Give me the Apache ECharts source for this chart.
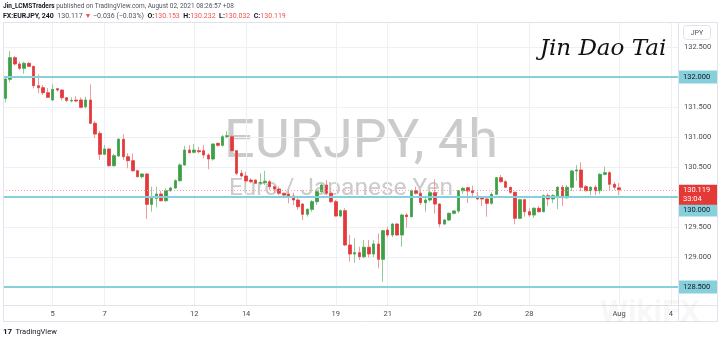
<!DOCTYPE html>
<html><head><meta charset="utf-8">
<script src="https://cdn.jsdelivr.net/npm/echarts@6/dist/echarts.min.js"></script>
<style>html,body{margin:0;padding:0;background:#fff;}#c{width:720px;height:342px;}</style>
</head><body><div id="c"></div>
<script>
// ---- data: EURJPY 4h candles (index 0 .. 130), last = Aug 2 05:00 (+08)
const opens = [131.645,131.962,132.322,132.217,132.145,132.228,132.178,131.855,131.822,131.738,
131.617,131.805,131.783,131.655,131.600,131.615,131.617,131.505,131.617,131.228,
131.060,130.712,130.800,130.522,130.683,130.962,130.672,130.605,130.438,130.338,
130.383,129.878,129.978,130.050,129.938,130.105,130.150,130.272,130.533,130.783,
130.745,130.772,130.772,130.700,130.633,130.895,130.862,131.005,131.005,130.772,
130.395,130.350,130.283,130.283,130.228,130.238,130.255,130.172,130.133,130.062,
130.050,130.017,129.950,129.883,129.712,129.795,129.922,130.088,130.200,130.062,
129.922,129.683,129.772,129.200,129.050,129.072,129.005,129.162,129.050,129.217,
128.962,129.450,129.367,129.550,129.367,129.700,129.672,130.105,130.062,129.905,
129.950,130.072,129.883,129.550,129.617,129.728,129.767,130.105,130.155,130.105,
130.012,129.990,129.967,129.895,130.045,130.322,130.255,130.162,130.078,129.645,
129.955,129.755,129.700,129.812,129.755,130.022,129.967,130.022,130.162,129.988,
130.162,130.433,130.450,130.172,130.105,130.162,130.105,130.378,130.405,130.212,
130.153];
const closes = [131.967,132.322,132.217,132.145,132.228,132.178,131.855,131.822,131.738,131.662,
131.795,131.783,131.655,131.610,131.610,131.600,131.495,131.617,131.228,131.050,
130.712,130.800,130.522,130.688,130.962,130.672,130.605,130.438,130.338,130.383,
129.878,129.978,130.050,129.938,130.105,130.150,130.272,130.533,130.783,130.738,
130.783,130.755,130.700,130.633,130.883,130.862,131.005,131.022,130.772,130.395,
130.350,130.267,130.255,130.228,130.245,130.262,130.172,130.133,130.062,130.033,
130.017,129.950,129.838,129.712,129.795,129.922,130.088,130.200,130.062,129.922,
129.683,129.772,129.200,129.050,129.072,129.005,129.162,129.050,129.217,128.962,
129.438,129.367,129.550,129.367,129.700,129.672,130.105,130.062,129.905,129.950,
130.072,129.883,129.550,129.617,129.728,129.767,130.105,130.145,130.100,130.072,
129.967,129.967,129.895,130.045,130.322,130.255,130.162,130.078,129.645,129.955,
129.755,129.700,129.812,129.755,130.022,129.967,130.022,130.162,129.988,130.162,
130.433,130.450,130.162,130.105,130.162,130.105,130.378,130.405,130.212,130.162,
130.119];
const lows = [131.578,131.910,132.190,132.117,132.055,132.167,131.810,131.730,131.700,131.650,
131.600,131.755,131.610,131.583,131.578,131.580,131.478,131.478,131.217,130.988,
130.617,130.700,130.505,130.505,130.672,130.617,130.478,130.422,130.328,130.312,
129.633,129.755,129.828,129.922,129.920,130.090,130.138,130.255,130.517,130.728,
130.728,130.728,130.645,130.462,130.605,130.838,130.838,130.978,130.755,130.367,
130.328,130.228,130.228,130.217,130.200,130.200,130.117,130.072,130.033,129.995,
129.895,129.867,129.783,129.617,129.672,129.755,129.867,130.070,130.033,129.895,
129.672,129.662,129.183,128.922,128.905,128.950,128.978,128.990,129.000,128.812,
128.588,129.328,129.330,129.350,129.172,129.490,129.660,130.040,129.867,129.755,
129.922,129.728,129.495,129.530,129.600,129.710,129.728,130.050,129.900,129.990,
129.950,129.850,129.672,129.870,130.030,130.240,130.150,130.050,129.545,129.630,
129.672,129.670,129.650,129.740,129.745,129.850,129.900,129.800,129.850,129.970,
130.100,130.270,130.100,130.090,130.030,130.030,130.050,130.360,130.100,130.120,
130.032];
const highs = [132.005,132.433,132.350,132.255,132.255,132.250,132.180,132.045,131.867,131.817,
131.878,131.820,131.790,131.660,131.660,131.680,131.660,131.672,131.878,131.270,
131.100,130.867,130.820,130.717,130.983,131.045,130.728,130.728,130.450,130.395,
130.400,130.172,130.172,130.100,130.145,130.170,130.295,130.562,130.850,130.867,
130.883,130.838,130.867,130.728,130.895,130.905,131.033,131.100,131.033,130.780,
130.450,130.422,130.312,130.290,130.395,130.438,130.283,130.200,130.172,130.072,
130.128,130.072,129.978,129.895,129.812,129.950,130.128,130.228,130.283,130.145,
129.950,129.795,129.812,129.367,129.312,129.172,129.283,129.283,129.280,129.395,
129.450,129.505,129.570,129.570,129.720,129.730,130.128,130.172,130.090,130.005,
130.117,130.295,129.900,129.630,129.740,129.780,130.120,130.170,130.170,130.190,
130.080,130.000,129.990,130.080,130.330,130.367,130.280,130.170,130.090,129.970,
129.970,129.810,129.830,129.850,130.040,130.060,130.050,130.180,130.200,130.200,
130.450,130.533,130.578,130.200,130.180,130.200,130.400,130.505,130.430,130.250,
130.232];

// x axis: 4h slots (candles + empty future slots), day labels at the first candle of the day
const slotCount = 143;
const dayLabels = ['5','7','12','14','19','21','26','28','Aug','4'];
const dayIndex  = [10, 21, 40, 51, 70, 81, 100, 111, 130, 141];

// horizontal levels drawn on chart and current price
const levelLines = [132.0, 130.0, 128.5];
const lastPrice = 130.119;
const countdown = '33:04';

const UP = '#3f9f48', DOWN = '#e2393a', UPW = '#8fcb94', DOWNW = '#f09a9a';
const FONT = 'Roboto, "Open Sans", sans-serif';

const chart = echarts.init(document.getElementById('c'), null, {renderer: 'canvas'});
const categories = Array.from({length: slotCount}, (_, i) => 'k' + i);
const labelAt = {};
dayIndex.forEach((k, j) => { labelAt[k] = dayLabels[j]; });
const fullData = opens.map((o, i) => [o, closes[i], lows[i], highs[i]]);
const bodyData = opens.map((o, i) => [o, closes[i], Math.min(o, closes[i]), Math.max(o, closes[i])]);

const option = {
  animation: false,
  grid: {left: 3, right: 42, top: 22, bottom: 37, show: false},
  xAxis: {
    type: 'category', data: categories, boundaryGap: true,
    axisLine: {show: false}, axisTick: {show: false},
    axisLabel: {interval: 0, formatter: (v, i) => labelAt[i] || '', color: '#4a4a4a', fontSize: 7.5, margin: 5, fontFamily: FONT},
    splitLine: {show: true, interval: (i) => labelAt[i] !== undefined, alignWithLabel: true, lineStyle: {color: '#eef0f5', width: 1}}
  },
  yAxis: {
    type: 'value', position: 'right', min: 128.2, max: 132.9167, minInterval: 0.5, maxInterval: 0.5,
    axisLine: {show: false}, axisTick: {show: false},
    axisLabel: {formatter: v => v.toFixed(3), showMinLabel: false, showMaxLabel: false, color: '#4a4a4a', fontSize: 7.5, margin: 6, fontFamily: FONT},
    splitLine: {lineStyle: {color: '#eef0f5', width: 1}}
  },
  series: [
    {type: 'candlestick', data: fullData, barWidth: 3, z: 3,
     itemStyle: {color: UPW, color0: DOWNW, borderColor: UPW, borderColor0: DOWNW, borderWidth: 1}},
    {type: 'candlestick', data: bodyData, barWidth: 3, z: 4,
     itemStyle: {color: UP, color0: DOWN, borderColor: UP, borderColor0: DOWN, borderWidth: 0.5},
     markLine: {silent: true, symbol: 'none', animation: false, label: {show: false},
       data: levelLines.map(v => ({yAxis: v, lineStyle: {color: '#86d0dc', width: 2, type: 'solid'}}))
         .concat([{yAxis: lastPrice, lineStyle: {color: '#f2a3a3', width: 1, type: [1, 2]}}])}
    }
  ]
};
chart.setOption(option);

const yPix = v => chart.convertToPixel({yAxisIndex: 0}, v);
const g = [];
// watermark
g.push({type: 'text', x: 361, y: 143, z: -10, style: {text: 'EURJPY, 4h', fill: '#cbcbcb', font: '54px ' + FONT, align: 'center', verticalAlign: 'middle'}});
g.push({type: 'text', x: 341, y: 189, z: -10, style: {text: 'Euro / Japanese Yen', fill: '#cbcbcb', font: '24.5px ' + FONT, align: 'center', verticalAlign: 'middle'}});
// frame
const frameColor = '#e0e3eb';
g.push({type: 'rect', shape: {x: 3.5, y: 22.5, width: 714, height: 299}, style: {fill: 'none', stroke: frameColor, lineWidth: 1}, z: 10});
g.push({type: 'line', shape: {x1: 678.5, y1: 22, x2: 678.5, y2: 322}, style: {stroke: frameColor, lineWidth: 1}, z: 10});
g.push({type: 'line', shape: {x1: 3, y1: 305.5, x2: 718, y2: 305.5}, style: {stroke: frameColor, lineWidth: 1}, z: 10});
// header
g.push({type: 'text', x: 3, y: 6, style: {
  text: '{b|Jin_LCMSTraders}{n| published on TradingView.com, August 02, 2021 08:26:57 +08}',
  verticalAlign: 'middle', font: '6.5px ' + FONT,
  rich: {b: {fontWeight: 'bold', fill: '#131722', fontSize: 6.5, fontFamily: FONT}, n: {fill: '#50535e', fontSize: 6.5, fontFamily: FONT}}}});
g.push({type: 'text', x: 3, y: 16, style: {
  text: '{b|FX:EURJPY, 240}{n|  130.117 }{r|▼}{n| −0.036 (−0.03%)  }{b|O:}{r|130.153}{b|  H:}{r|130.232}{b|  L:}{r|130.032}{b|  C:}{r|130.119}',
  verticalAlign: 'middle', font: '7px ' + FONT,
  rich: {b: {fontWeight: 'bold', fill: '#131722', fontSize: 7, fontFamily: FONT}, n: {fill: '#50535e', fontSize: 7, fontFamily: FONT}, r: {fill: '#ef5350', fontSize: 7, fontFamily: FONT}}}});
// JPY box
g.push({type: 'rect', shape: {x: 683.5, y: 25.5, width: 27, height: 14, r: 3}, style: {fill: '#fff', stroke: '#e0e3eb', lineWidth: 1}, z: 11});
g.push({type: 'text', x: 697, y: 33, z: 12, style: {text: 'JPY', fill: '#50535e', font: '7px ' + FONT, align: 'center', verticalAlign: 'middle'}});
// signature
g.push({type: 'text', x: 603, y: 49, z: 12, style: {text: 'Jin Dao Tai', fill: '#111', font: 'italic 23px "DejaVu Serif", serif', align: 'center', verticalAlign: 'middle'}});
// right axis level labels
const lvlPos = {132: 0, 130: 13, 128.5: 0};
levelLines.forEach(v => {
  const y = yPix(v) + (lvlPos[v] || 0);
  g.push({type: 'rect', shape: {x: 679, y: y - 6.5, width: 38, height: 13}, style: {fill: '#86d0dc'}, z: 13});
  g.push({type: 'text', x: 683, y: y, z: 14, style: {text: v.toFixed(3), fill: '#131722', font: '7.5px ' + FONT, verticalAlign: 'middle'}});
});
const py = yPix(lastPrice);
g.push({type: 'rect', shape: {x: 679, y: py - 5, width: 38, height: 20}, style: {fill: '#e53935'}, z: 13});
g.push({type: 'text', x: 683, y: py + 0.5, z: 14, style: {text: lastPrice.toFixed(3), fill: '#fff', font: '7.5px ' + FONT, verticalAlign: 'middle'}});
g.push({type: 'text', x: 683, y: py + 9.5, z: 14, style: {text: countdown, fill: '#fff', font: '7.5px ' + FONT, verticalAlign: 'middle'}});
// TradingView logo
g.push({type: 'text', x: 3, y: 332, style: {text: '{l|17} {t|TradingView}', verticalAlign: 'middle',
  rich: {l: {fontWeight: 'bold', fill: '#131722', fontSize: 8, fontFamily: FONT}, t: {fill: '#131722', fontSize: 7.5, fontFamily: FONT}}}});
// faint WikiFX watermark
g.push({type: 'text', x: 650, y: 314, z: 20, style: {text: 'WikiFX', fill: 'rgba(0,0,0,0.03)', font: 'bold 32px ' + FONT, align: 'center', verticalAlign: 'middle'}});

chart.setOption({graphic: {elements: g}});
</script>
</body></html>
